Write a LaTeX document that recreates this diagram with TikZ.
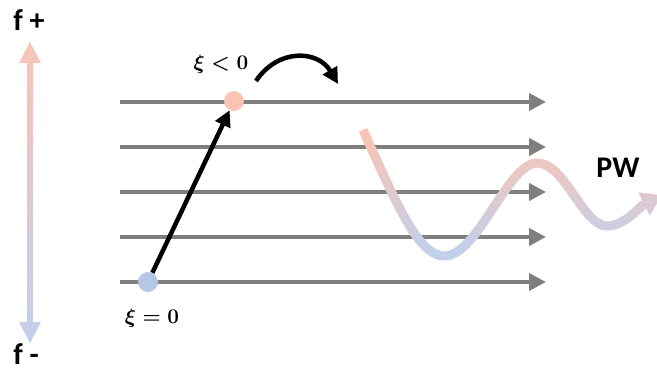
\documentclass[tikz,border=0pt]{standalone}
\usepackage{fontspec}
\setmainfont{Carlito}
\usetikzlibrary{arrows.meta}
\definecolor{pinkc}{RGB}{249,196,182}
\definecolor{bluec}{RGB}{194,208,236}
\definecolor{dotpink}{RGB}{251,196,180}
\definecolor{dotblue}{RGB}{180,199,231}
\definecolor{grayl}{RGB}{127,127,127}
\tikzset{
  x=1pt,y=-1pt,
  lvl/.style={draw=grayl,line width=4pt,-{Triangle[length=17pt,width=17pt]}},
  dot/.style={circle,inner sep=0pt,minimum size=20pt},
  blk/.style={line width=4.5pt,-{Triangle[length=16pt,width=16pt]}},
  wave/.style={line width=9pt,-{Triangle[length=20pt,width=24pt]}},
  lab/.style={font=\fontsize{30}{34}\selectfont\bfseries,inner sep=0pt},
  mlab/.style={font=\fontsize{21}{24}\selectfont\boldmath,inner sep=0pt}
}
\begin{document}
\begin{tikzpicture}
\useasboundingbox (0,0) rectangle (657,371);
% left gradient arrow
\shade[top color=pinkc,bottom color=bluec]
  (30,42) -- (41,63) -- (33,63) -- (33,322) -- (41,322) -- (30,343) -- (19,322) -- (27,322) -- (27,63) -- (19,63) -- cycle;
\node[lab] (fp) at (29,20) {f +};
\node[lab] (fm) at (26,354) {f -};
% level lines
\foreach \y/\n in {102/l1,147/l2,192/l3,237/l4,282/l5}{
  \coordinate (\n a) at (120,\y);
  \coordinate (\n b) at (546,\y);
  \draw[lvl] (\n a) -- (\n b);
}
% dots
\node[dot,fill=dotpink] (p) at (234,101) {};
\node[dot,fill=dotblue] (b) at (148,282) {};
\draw[blk] (b) -- (p);
\node[mlab] (xl) at (221,64) {$\xi<0$};
\node[mlab] (xe) at (152,318) {$\xi=0$};
% curved arrow
\coordinate (c1) at (256,81);
\coordinate (c2) at (338,84);
\draw[blk] (c1) .. controls (278,48) and (318,50) .. (c2);
% wave with vertical gradient
\foreach \i in {0,...,54}{
  \pgfmathsetmacro\ya{118+3*\i}
  \pgfmathsetmacro\t{min(100,max(0,(\ya+1.5-140)/115*100))}
  \begin{scope}
    \clip (340,\ya) rectangle (680,\ya+3.3);
    \draw[wave,draw=bluec!\t!pinkc]
      (363,130) .. controls (395,200) and (418,257) .. (445,256)
      .. controls (478,255) and (508,163) .. (537,163)
      .. controls (565,163) and (583,226) .. (607,226)
      .. controls (625,226) and (640,206) .. (662,195);
  \end{scope}
}
\node[lab] (pw) at (618,168) {PW};
\end{tikzpicture}
\end{document}
